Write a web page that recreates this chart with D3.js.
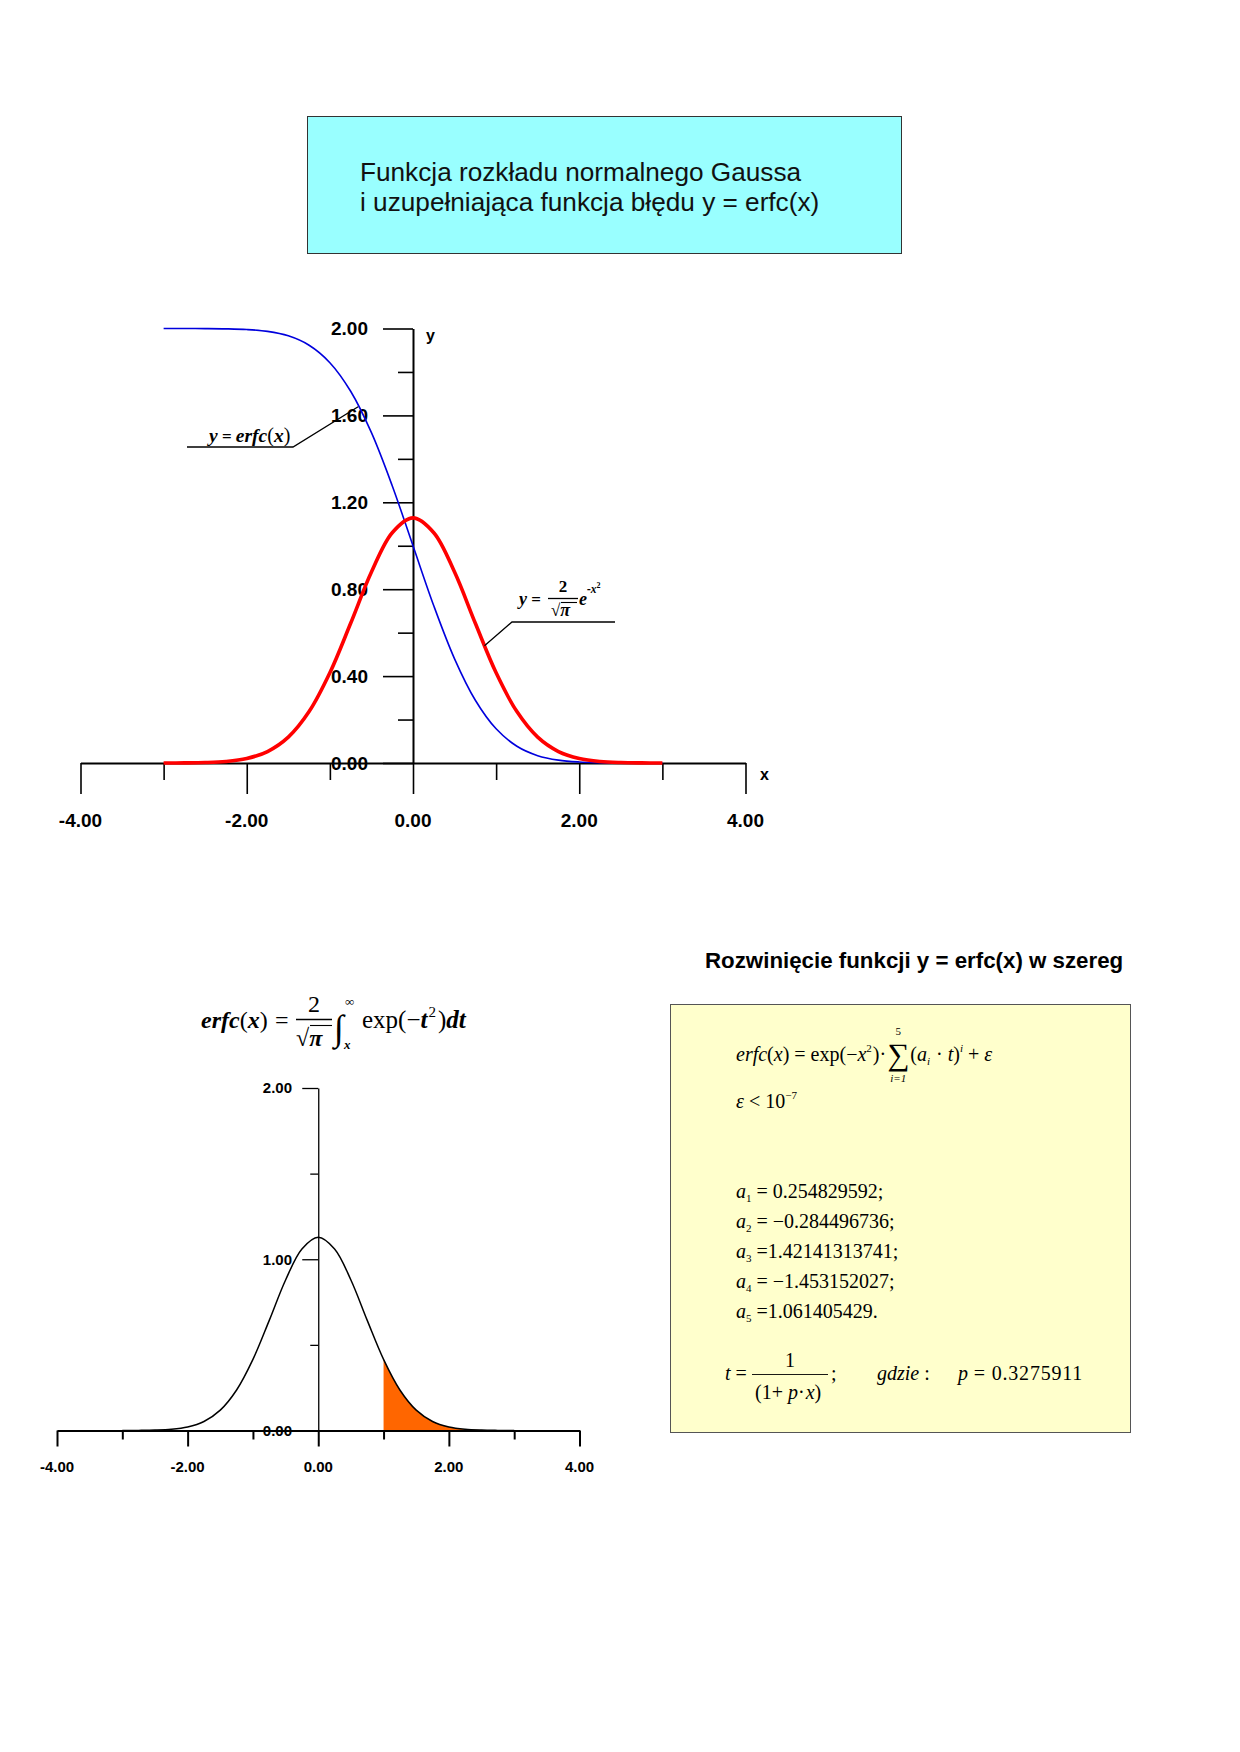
<!DOCTYPE html>
<html><head><meta charset="utf-8">
<script src="https://cdn.jsdelivr.net/npm/d3@7"></script>
<style>body{margin:0;background:#fff} svg{display:block} text{white-space:pre}</style>
</head><body>
<svg id="c" width="1240" height="1752"></svg>
<script>
// ---------- data ----------
const xs = [-3,-2.75,-2.5,-2.25,-2,-1.75,-1.5,-1.25,-1,-0.75,-0.5,-0.25,0,0.25,0.5,0.75,1,1.25,1.5,1.75,2,2.25,2.5,2.75,3];
const gaussVals = [0.0001,0.0006,0.0022,0.0071,0.0207,0.0528,0.1189,0.2365,0.4151,0.6430,0.8788,1.0600,1.1284,1.0600,0.8788,0.6430,0.4151,0.2365,0.1189,0.0528,0.0207,0.0071,0.0022,0.0006,0.0001];
const erfcVals = [2.0000,1.9999,1.9996,1.9985,1.9953,1.9867,1.9661,1.9229,1.8427,1.7112,1.5205,1.2763,1.0000,0.7237,0.4795,0.2888,0.1573,0.0771,0.0339,0.0133,0.0047,0.0015,0.0004,0.0001,0.0000];
const shadeFrom = 1;
const topXMajor = [-4,-2,0,2,4], topXMinor = [-3,-1,1,3];
const topYMajor = [0,0.4,0.8,1.2,1.6,2], topYMinor = [0.2,0.6,1,1.4,1.8];
const botXMajor = [-4,-2,0,2,4], botXMinor = [-3,-1,1,3];
const botYMajor = [0,1,2], botYMinor = [0.5,1.5];
const titleLines = ["Funkcja rozkładu normalnego Gaussa","i uzupełniająca funkcja błędu y = erfc(x)"];
const seriesTitle = "Rozwinięcie funkcji y = erfc(x) w szereg";
const coeffIdx = ["1","2","3","4","5"];
const coeffValues = [" = 0.254829592;"," = \u22120.284496736;"," =1.42141313741;"," = \u22121.453152027;"," =1.061405429."];
const pValue = "0.3275911";

// ---------- setup ----------
const SANS = "'Liberation Sans', Arial, sans-serif";
const SERIF = "'Liberation Serif', 'Times New Roman', serif";
const svg = d3.select("#c");
svg.append("rect").attr("width",1240).attr("height",1752).attr("fill","#fff");
const fmt = d3.formatLocale({decimal:".",thousands:",",grouping:[3],currency:["",""],minus:"-"}).format(".2f");
const pts = xs.map((x,i)=>({x, g:gaussVals[i], e:erfcVals[i]}));

function txt(g, x, y, s, o){
  o = o || {};
  const t = g.append("text").attr("x",x).attr("y",y)
    .attr("text-anchor", o.anchor || "start")
    .style("font-family", o.fam || SERIF)
    .style("font-size", (o.size||20)+"px")
    .style("font-style", o.it ? "italic" : "normal")
    .style("font-weight", o.b ? "bold" : "normal")
    .attr("fill","#000").text(s);
  if (o.ls) t.style("letter-spacing", o.ls+"px");
  return t;
}
function rich(g, x, y, parts){
  let cx = x;
  parts.forEach(p=>{
    const t = txt(g, cx + (p.dx||0), y + (p.dy||0), p.t, p);
    const w = t.node().getComputedTextLength();
    p.x0 = cx + (p.dx||0); p.w = w;
    cx += w + (p.dx||0) + (p.after||0);
  });
  return cx;
}

// ---------- title box ----------
svg.append("rect").attr("x",307.5).attr("y",116.5).attr("width",594).attr("height",137)
  .attr("fill","#99FFFF").attr("stroke","#333").attr("stroke-width",1);
titleLines.forEach((s,i)=>{
  txt(svg, 360, 181+i*30, s, {fam:SANS, size:26.2}).attr("fill","#111");
});

// ---------- top chart ----------
const xT = d3.scaleLinear().domain([-4,4]).range([80.5,745.5]);
const yT = d3.scaleLinear().domain([0,2]).range([763,328.5]);
const gT = svg.append("g");

topYMajor.forEach(v=>{
  txt(gT, 368, yT(v), fmt(v), {fam:SANS, size:19, b:1, anchor:"end"}).attr("dy","0.36em");
});
topXMajor.forEach(v=>{
  txt(gT, xT(v), 820, fmt(v), {fam:SANS, size:19, b:1, anchor:"middle"}).attr("dy","0.36em");
});
txt(gT, 426, 335, "y", {fam:SANS, size:16, b:1}).attr("dy","0.36em");
txt(gT, 760, 774, "x", {fam:SANS, size:16, b:1}).attr("dy","0.36em");

function styleAxis(sel, dw, tw){
  sel.selectAll("text").remove();
  sel.select(".domain").attr("stroke","#000").attr("stroke-width",dw);
  sel.selectAll(".tick line").attr("stroke","#000").attr("stroke-width",tw);
}
gT.append("g").attr("transform",`translate(0,${yT(0)})`)
  .call(d3.axisBottom(xT).tickValues(topXMajor).tickSize(31).tickSizeOuter(0).tickFormat(""))
  .call(s=>styleAxis(s,2,1.6));
gT.append("g").attr("transform",`translate(0,${yT(0)})`)
  .call(d3.axisBottom(xT).tickValues(topXMinor).tickSize(17).tickSizeOuter(0).tickFormat(""))
  .call(s=>{styleAxis(s,2,1.6); s.select(".domain").remove();});
gT.append("g").attr("transform",`translate(${xT(0)},0)`)
  .call(d3.axisLeft(yT).tickValues(topYMajor).tickSize(30).tickSizeOuter(0).tickFormat(""))
  .call(s=>styleAxis(s,2,1.6));
gT.append("g").attr("transform",`translate(${xT(0)},0)`)
  .call(d3.axisLeft(yT).tickValues(topYMinor).tickSize(15).tickSizeOuter(0).tickFormat(""))
  .call(s=>{styleAxis(s,2,1.6); s.select(".domain").remove();});

const curve = d3.curveCatmullRom.alpha(0.5);
gT.append("path").datum(pts).attr("fill","none").attr("stroke","#0000DD").attr("stroke-width",1.6)
  .attr("d", d3.line().x(d=>xT(d.x)).y(d=>yT(Math.max(0,d.e))).curve(curve));
gT.append("path").datum(pts).attr("fill","none").attr("stroke","#FF0000").attr("stroke-width",3.6)
  .attr("d", d3.line().x(d=>xT(d.x)).y(d=>yT(Math.max(0,d.g))).curve(curve));

// annotations
const ann = gT.append("g").attr("stroke","#000").attr("stroke-width",1.3).attr("fill","none");
ann.append("polyline").attr("points",`187,447 293,447 ${xT(-0.66)},${yT(1.64)}`);
ann.append("polyline").attr("points",`615,622 512,622 ${xT(0.86)},${yT(0.54)}`);
rich(gT, 209, 442, [
  {t:"y", it:1, b:1, size:19.5},{t:" = ", b:1, size:17},{t:"erfc", it:1, b:1, size:19.5},
  {t:"(", size:20},{t:"x", it:1, b:1, size:19.5},{t:")", size:20}
]);
// gaussian label
rich(gT, 519, 605, [{t:"y", it:1, b:1, size:18},{t:" =", b:1, size:17}]);
txt(gT, 563, 592, "2", {size:17, b:1, anchor:"middle"});
gT.append("line").attr("x1",548).attr("x2",578).attr("y1",598.5).attr("y2",598.5).attr("stroke","#000").attr("stroke-width",1.3);
rich(gT, 551, 616, [{t:"\u221A", size:17},{t:"\u03C0", it:1, b:1, size:18}]);
gT.append("line").attr("x1",561).attr("x2",577).attr("y1",602.5).attr("y2",602.5).attr("stroke","#000").attr("stroke-width",1.1);
rich(gT, 579, 605, [{t:"e", it:1, b:1, size:18},{t:"-x", it:1, b:1, size:11.5, dy:-12},{t:"2", b:1, size:8, dy:-17}]);

// ---------- bottom-left chart ----------
const xB = d3.scaleLinear().domain([-4,4]).range([57,579.5]);
const yB = d3.scaleLinear().domain([0,2]).range([1430.5,1088]);
const gB = svg.append("g");

svg.append("clipPath").attr("id","shade").append("rect")
  .attr("x",xB(shadeFrom)).attr("y",1000).attr("width",600).attr("height",500);
gB.append("path").datum(pts).attr("clip-path","url(#shade)").attr("fill","#FF6600")
  .attr("d", d3.area().x(d=>xB(d.x)).y0(yB(0)).y1(d=>yB(Math.max(0,d.g))).curve(curve));

botYMajor.forEach(v=>{
  txt(gB, 292, yB(v), fmt(v), {fam:SANS, size:15, b:1, anchor:"end"}).attr("dy","0.36em");
});
botXMajor.forEach(v=>{
  txt(gB, xB(v), 1467, fmt(v), {fam:SANS, size:15, b:1, anchor:"middle"}).attr("dy","0.36em");
});
gB.append("g").attr("transform",`translate(0,${yB(0)})`)
  .call(d3.axisBottom(xB).tickValues(botXMajor).tickSize(16).tickSizeOuter(0).tickFormat(""))
  .call(s=>styleAxis(s,2,2));
gB.append("g").attr("transform",`translate(0,${yB(0)})`)
  .call(d3.axisBottom(xB).tickValues(botXMinor).tickSize(9).tickSizeOuter(0).tickFormat(""))
  .call(s=>{styleAxis(s,2,2); s.select(".domain").remove();});
gB.append("g").attr("transform",`translate(${xB(0)},0)`)
  .call(d3.axisLeft(yB).tickValues(botYMajor).tickSize(16).tickSizeOuter(0).tickFormat(""))
  .call(s=>styleAxis(s,1.3,1.3));
gB.append("g").attr("transform",`translate(${xB(0)},0)`)
  .call(d3.axisLeft(yB).tickValues(botYMinor).tickSize(8).tickSizeOuter(0).tickFormat(""))
  .call(s=>{styleAxis(s,1.3,1.3); s.select(".domain").remove();});
gB.append("path").datum(pts).attr("fill","none").attr("stroke","#000").attr("stroke-width",1.5)
  .attr("d", d3.line().x(d=>xB(d.x)).y(d=>yB(Math.max(0,d.g))).curve(curve));

// formula above bottom chart
const gF = svg.append("g");
rich(gF, 201, 1028, [
  {t:"erfc", it:1, b:1, size:24},{t:"(", size:24},{t:"x", it:1, b:1, size:24},{t:")", size:24}
]);
txt(gF, 275, 1028, "=", {size:24});
txt(gF, 314, 1012, "2", {size:24, anchor:"middle"});
gF.append("line").attr("x1",296).attr("x2",332).attr("y1",1019.5).attr("y2",1019.5).attr("stroke","#000").attr("stroke-width",1.3);
rich(gF, 296, 1046, [{t:"\u221A", size:24},{t:"\u03C0", it:1, b:1, size:24}]);
gF.append("line").attr("x1",310).attr("x2",332).attr("y1",1025.5).attr("y2",1025.5).attr("stroke","#000").attr("stroke-width",1.1);
const intParts = [{t:"\u222B", size:36}];
const intEnd = rich(gF, 334, 1040, intParts);
txt(gF, intEnd + 1, 1006, "\u221E", {size:13});
txt(gF, intEnd, 1049, "x", {size:13, it:1, b:1});
rich(gF, 362, 1028, [
  {t:"exp(\u2212", size:25},{t:"t", it:1, b:1, size:25, after:1},{t:"2", size:15, dy:-11, after:2},{t:")", size:25},
  {t:"dt", it:1, b:1, size:25}
]);

// ---------- right panel ----------
txt(svg, 705, 968, seriesTitle, {fam:SANS, size:22.3, b:1});
svg.append("rect").attr("x",670.5).attr("y",1004.5).attr("width",460).attr("height",428)
  .attr("fill","#FFFFCC").attr("stroke","#555").attr("stroke-width",1);
const gR = svg.append("g");
const p1 = [
  {t:"erfc", it:1, size:20},{t:"(", size:20},{t:"x", it:1, size:20},{t:")", size:20},
  {t:" = exp(\u2212", size:20},{t:"x", it:1, size:20},{t:"2", size:11, dy:-9, after:1},{t:")\u00B7", size:20, after:1},
  {t:"\u2211", size:31, dy:4, after:1},
  {t:"(", size:20},{t:"a", it:1, size:20},{t:"i", it:1, size:11, dy:4, after:1},{t:" \u00B7 ", size:20},{t:"t", it:1, size:20},{t:")", size:20},
  {t:"i", it:1, size:11, dy:-9},{t:" + ", size:20},{t:"\u03B5", it:1, size:20}
];
rich(gR, 736, 1061, p1);
const sig = p1[8];
txt(gR, sig.x0+sig.w/2, 1035, "5", {size:11, anchor:"middle"});
txt(gR, sig.x0+sig.w/2, 1082, "i=1", {size:11, it:1, anchor:"middle"});
rich(gR, 736, 1108, [{t:"\u03B5", it:1, size:20},{t:" < 10", size:20},{t:"\u22127", size:11, dy:-9}]);

coeffIdx.forEach((k,i)=>{
  rich(gR, 736, 1198 + i*30, [
    {t:"a", it:1, size:20},{t:k, size:11, dy:4},{t:coeffValues[i], size:20}
  ]);
});
// t = 1/(1+p x)
rich(gR, 725, 1380, [{t:"t", it:1, size:20},{t:" =", size:20}]);
txt(gR, 790, 1367, "1", {size:20, anchor:"middle"});
gR.append("line").attr("x1",752).attr("x2",828).attr("y1",1374.5).attr("y2",1374.5).attr("stroke","#000").attr("stroke-width",0.9);
rich(gR, 755, 1399, [{t:"(1+ ", size:20},{t:"p", it:1, size:20},{t:"\u00B7", size:20, after:1},{t:"x", it:1, size:20},{t:")", size:20}]);
rich(gR, 831, 1380, [{t:";", size:20}]);
rich(gR, 877, 1380, [{t:"gdzie", it:1, size:20},{t:" :", size:20}]);
rich(gR, 958, 1380, [{t:"p", it:1, size:20},{t:" = "+pValue, size:20, ls:0.8}]);
</script>
</body></html>
